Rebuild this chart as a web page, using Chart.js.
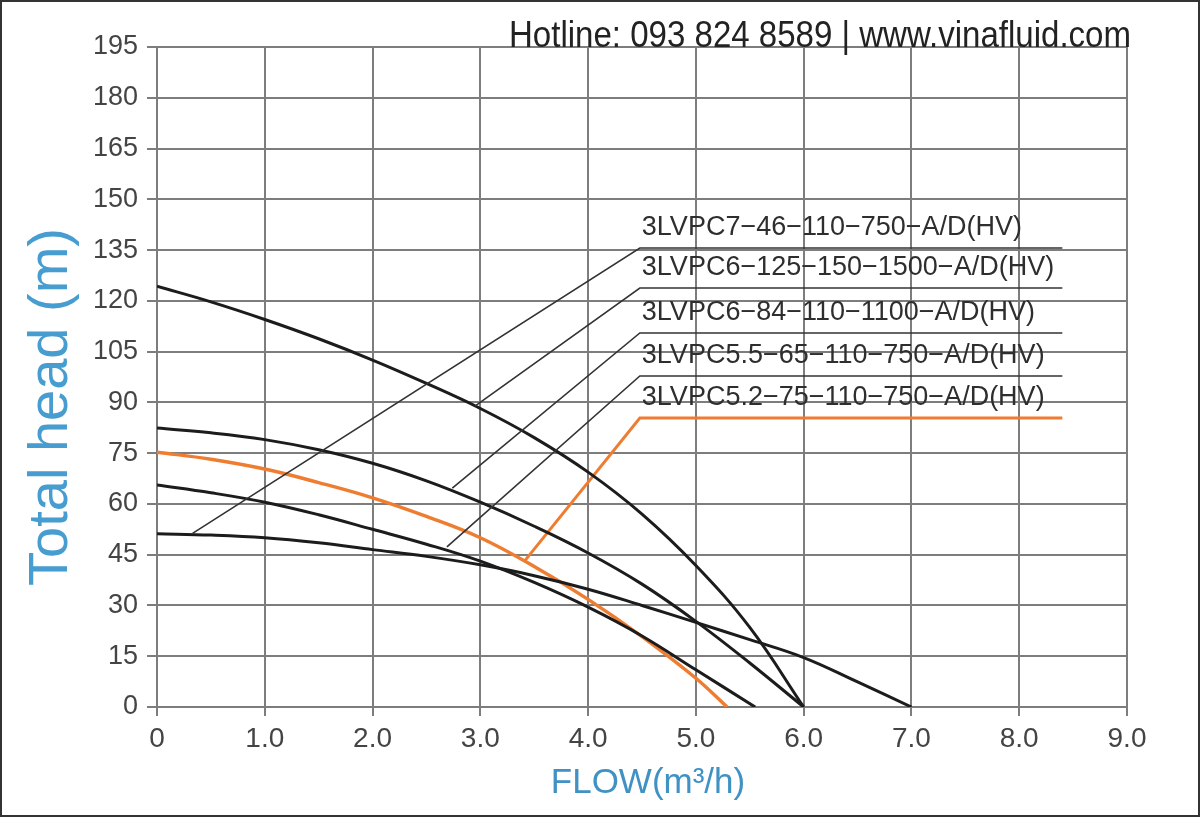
<!DOCTYPE html>
<html>
<head>
<meta charset="utf-8">
<script src="https://cdn.jsdelivr.net/npm/chart.js@4.4.1/dist/chart.umd.min.js"></script>
<style>
  body { margin: 0; background: #fff; }
  canvas { display: block; }
</style>
</head>
<body>
<canvas id="chart" width="1200" height="817"></canvas>
<script>
// pump curves, flow in m3/h, head in m
const flow125 = [0, 0.5, 1, 1.5, 2, 2.5, 3, 3.5, 4, 4.5, 5, 5.5, 6]
const head125 = [124.3, 119.7, 114.5, 108.8, 102.5, 95.6, 88.2, 79.6, 69.4, 57, 41.8, 23.5, 0]

const flow84 = [0, 0.5, 1, 1.5, 2, 2.5, 3, 3.5, 4, 4.5, 5, 5.5, 6]
const head84 = [82.4, 81, 79, 76, 72, 66.8, 60.5, 53.4, 45.5, 36.3, 25.3, 13, 0]

const flow65 = [0, 0.5, 1, 1.5, 2, 2.5, 3, 3.5, 4, 4.5, 5, 5.55]
const head65 = [65.6, 63.3, 60.5, 56.8, 52.5, 48.1, 43.1, 36.8, 29.5, 21, 11, 0]

const flow46 = [0, 0.5, 1, 1.5, 2, 2.5, 3, 3.5, 4, 4.5, 5, 5.5, 6, 6.5, 7]
const head46 = [51.2, 50.8, 50, 48.5, 46.5, 44.5, 42, 38.8, 34.8, 30, 25, 19.9, 14.6, 7.4, 0]

const flow75 = [0, 0.5, 1, 1.5, 2, 2.5, 3, 3.5, 4, 4.5, 5, 5.29]
const head75 = [75.3, 73.2, 70.3, 66.3, 61.8, 56.3, 50, 41.5, 31.8, 20.8, 8.5, 0]

// model labels, top to bottom
const models = [
    '3LVPC7−46−110−750−A/D(HV)',
    '3LVPC6−125−150−1500−A/D(HV)',
    '3LVPC6−84−110−1100−A/D(HV)',
    '3LVPC5.5−65−110−750−A/D(HV)',
    '3LVPC5.2−75−110−750−A/D(HV)'
]
// where each leader line leaves its curve
const leaderFlow = [0.33, 2.95, 2.74, 2.69, 3.41]
const leaderHead = [51.3, 88.9, 64.7, 47.3, 43.1]
// leader elbow and label underline heads
const labelFlow = [4.48, 8.40]
const labelHead = [135.6, 123.8, 110.5, 97.8, 85.4]

const flowTicks = [0, 1, 2, 3, 4, 5, 6, 7, 8, 9]
const headTicks = [0, 15, 30, 45, 60, 75, 90, 105, 120, 135, 150, 165, 180, 195]

const BLACK = '#1c1c1c'
const ORANGE = '#ef7d31'
const GRID = '#7d7d7d'
const BLUE = 'rgb(72,157,208)'

const pts = (xs, ys) => xs.map((x, i) => ({ x: x, y: ys[i] }))

function curve(xs, ys, color, width) {
    return {
        data: pts(xs, ys),
        borderColor: color,
        borderWidth: width,
        showLine: true,
        pointRadius: 0,
        tension: 0.4,
        fill: false
    }
}

function leader(i, color, width) {
    return {
        data: [
            { x: leaderFlow[i], y: leaderHead[i] },
            { x: labelFlow[0], y: labelHead[i] },
            { x: labelFlow[1], y: labelHead[i] }
        ],
        borderColor: color,
        borderWidth: width,
        showLine: true,
        pointRadius: 0,
        tension: 0,
        fill: false
    }
}

const textPlugin = {
    id: 'texts',
    afterDatasetsDraw(chart) {
        const ctx = chart.ctx
        const x = chart.scales.x
        const y = chart.scales.y
        ctx.save()
        ctx.fillStyle = '#2e2e2e'
        ctx.font = '27px "Liberation Sans", Arial, sans-serif'
        ctx.textBaseline = 'middle'
        ctx.textAlign = 'left'
        models.forEach((m, i) => {
            ctx.fillText(m, x.getPixelForValue(labelFlow[0]) + 2, y.getPixelForValue(labelHead[i]) - 20)
        })
        ctx.restore()
    },
    afterDraw(chart) {
        const ctx = chart.ctx
        ctx.save()
        // hotline
        const hot = 'Hotline: 093 824 8589 | www.vinafluid.com'
        ctx.font = '36px "Liberation Sans Narrow", "Liberation Sans", Arial, sans-serif'
        ctx.fillStyle = '#222'
        ctx.textBaseline = 'alphabetic'
        ctx.textAlign = 'left'
        const w = ctx.measureText(hot).width
        ctx.save()
        ctx.translate(509, 47)
        ctx.scale(622 / w, 1)
        ctx.fillText(hot, 0, 0)
        ctx.restore()

        // axis titles
        ctx.fillStyle = BLUE
        ctx.font = '56px "Liberation Sans", Arial, sans-serif'
        ctx.textAlign = 'center'
        ctx.save()
        ctx.translate(67, 407)
        ctx.rotate(-Math.PI / 2)
        ctx.fillText('Total head (m)', 0, 0)
        ctx.restore()

        ctx.fillStyle = 'rgb(64,146,196)'
        ctx.font = '35px "Liberation Sans", Arial, sans-serif'
        ctx.fillText('FLOW(m³/h)', 648, 793)

        // frame
        ctx.strokeStyle = '#333'
        ctx.lineWidth = 2
        ctx.strokeRect(1, 1, 1198, 815)
        ctx.restore()
    }
}

new Chart(document.getElementById('chart'), {
    type: 'scatter',
    data: {
        datasets: [
            leader(0, '#333', 1.6),
            leader(1, '#333', 1.6),
            leader(2, '#333', 1.6),
            leader(3, '#333', 1.6),
            curve(flow125, head125, BLACK, 3),
            curve(flow84, head84, BLACK, 3),
            curve(flow65, head65, BLACK, 3),
            curve(flow46, head46, BLACK, 3),
            leader(4, ORANGE, 3),
            curve(flow75, head75, ORANGE, 3.5)
        ]
    },
    options: {
        responsive: false,
        animation: false,
        devicePixelRatio: 1,
        layout: { padding: { top: 47, right: 73, left: 0, bottom: 0 } },
        plugins: { legend: { display: false }, tooltip: { enabled: false } },
        scales: {
            x: {
                type: 'linear',
                min: 0,
                max: 9,
                afterFit: s => { s.height = 110 },
                afterBuildTicks: s => { s.ticks = flowTicks.map(v => ({ value: v })) },
                ticks: {
                    color: '#444',
                    font: { size: 28, family: '"Liberation Sans", Arial, sans-serif' },
                    padding: 6,
                    maxRotation: 0,
                    callback: v => v === 0 ? '0' : v.toFixed(1)
                },
                grid: { color: GRID, lineWidth: 2, tickLength: 9 },
                border: { color: GRID, width: 2 }
            },
            y: {
                type: 'linear',
                min: 0,
                max: 195,
                afterFit: s => { s.width = 157 },
                afterBuildTicks: s => { s.ticks = headTicks.map(v => ({ value: v })) },
                ticks: {
                    color: '#444',
                    font: { size: 27, family: '"Liberation Sans", Arial, sans-serif' },
                    padding: 9
                },
                grid: { color: GRID, lineWidth: 2, tickLength: 10 },
                border: { color: GRID, width: 2 }
            }
        }
    },
    plugins: [textPlugin]
})
</script>
</body>
</html>
